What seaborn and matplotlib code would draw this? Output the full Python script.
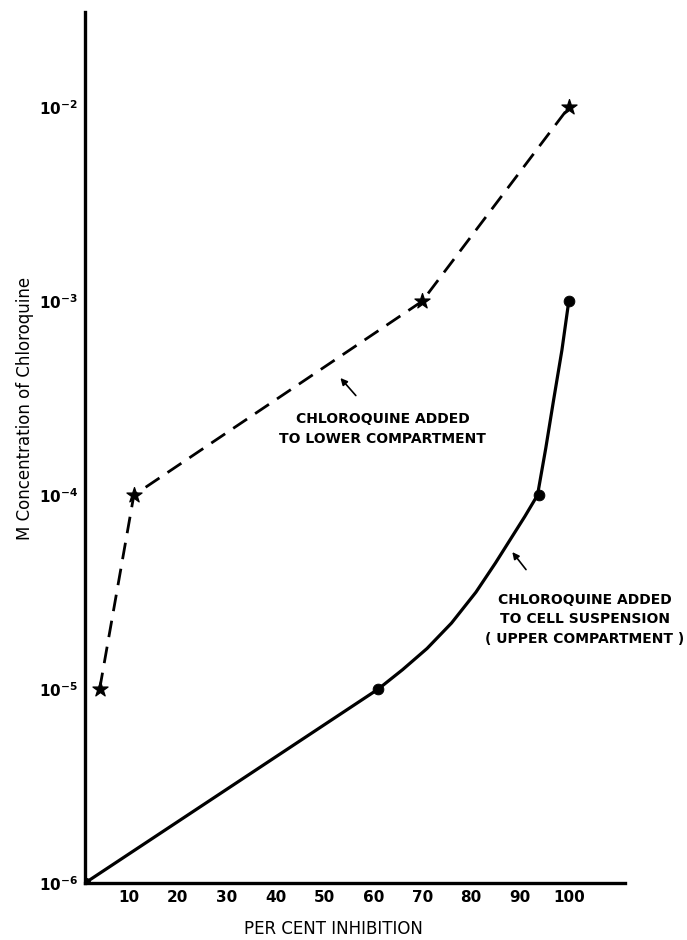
import numpy as np
import pandas as pd
import matplotlib
matplotlib.use("Agg")
import matplotlib.pyplot as plt
import matplotlib.ticker as mticker
import seaborn as sns

# --- Datos ---
# Curva discontinua (cloroquina en el compartimento inferior)
inhib_inferior = [4, 11, 70, 100]
conc_inferior = [1e-5, 1e-4, 1e-3, 1e-2]

# Puntos medidos de la curva continua (suspensión celular)
inhib_superior = [1, 61, 94, 100]
conc_superior = [1e-6, 1e-5, 1e-4, 1e-3]

# Trazo de la curva continua
traza_x = [1, 61, 66, 71, 76, 81, 85, 88, 91, 93.6, 95.3, 96.9, 98.6, 100]
traza_y = [1e-6, 1e-5, 1.26e-5, 1.62e-5, 2.19e-5, 3.16e-5, 4.47e-5, 5.89e-5,
           7.76e-5, 1e-4, 1.75e-4, 3.1e-4, 5.6e-4, 1e-3]

xticks = [10, 20, 30, 40, 50, 60, 70, 80, 90, 100]
yticks = [1e-6, 1e-5, 1e-4, 1e-3, 1e-2]
ytick_labels = [r"$10^{-6}$", r"$10^{-5}$", r"$10^{-4}$", r"$10^{-3}$", r"$10^{-2}$"]

sns.set_style("white")
plt.rcParams["font.family"] = ["DejaVu Sans"]
plt.rcParams["mathtext.default"] = "bf"
plt.rcParams["text.color"] = "black"
plt.rcParams["axes.labelcolor"] = "black"
plt.rcParams["xtick.color"] = "black"
plt.rcParams["ytick.color"] = "black"

fig = plt.figure(figsize=(6.87, 9.4), dpi=100)
ax = fig.add_axes([0.1237, 0.0606, 0.786, 0.9266])

df_traza = pd.DataFrame({"x": traza_x, "y": traza_y})
sns.lineplot(data=df_traza, x="x", y="y", sort=False, estimator=None,
             color="black", linewidth=2.3, ax=ax)
sns.scatterplot(x=inhib_superior, y=conc_superior, color="black", s=60,
                marker="o", edgecolor="black", ax=ax, zorder=5)

df_inf = pd.DataFrame({"x": inhib_inferior, "y": conc_inferior})
sns.lineplot(data=df_inf, x="x", y="y", sort=False, estimator=None,
             color="black", linewidth=2.0, ax=ax)
ax.lines[-1].set_dashes([6, 3.5])
sns.scatterplot(x=inhib_inferior, y=conc_inferior, color="black", s=130,
                marker="*", edgecolor="black", ax=ax, zorder=5)

ax.set_yscale("log")
ax.set_xlim(1, 111.5)
ax.set_ylim(1e-6, 0.031)
ax.set_xticks(xticks)
ax.set_xticklabels([str(t) for t in xticks], fontsize=11, fontweight="bold")
ax.set_yticks(yticks)
ax.set_yticklabels(ytick_labels, fontsize=11)
ax.yaxis.set_minor_locator(mticker.NullLocator())
ax.tick_params(axis="both", direction="in", length=7, width=1.6, color="black", pad=5)

for lado in ["top", "right"]:
    ax.spines[lado].set_visible(False)
for lado in ["left", "bottom"]:
    ax.spines[lado].set_linewidth(2.4)
    ax.spines[lado].set_color("black")

ax.set_xlabel("PER CENT INHIBITION", fontsize=12, labelpad=8)
ax.xaxis.set_label_coords(0.46, -0.042)
ax.set_ylabel("M Concentration of Chloroquine", fontsize=12)
ax.yaxis.set_label_coords(-0.095, 0.545)

# Anotaciones
ax.text(61.9, 10 ** -3.66, "CHLOROQUINE ADDED\nTO LOWER COMPARTMENT",
        ha="center", va="center", multialignment="center", fontsize=10,
        fontweight="bold", linespacing=1.5)
ax.annotate("", xy=(52.9, 10 ** -3.385), xytext=(56.8, 10 ** -3.497),
            arrowprops=dict(arrowstyle="-|>", color="black", lw=1.2, mutation_scale=10))

ax.text(103.3, 10 ** -4.64, "CHLOROQUINE ADDED\nTO CELL SUSPENSION\n( UPPER COMPARTMENT )",
        ha="center", va="center", multialignment="center", fontsize=10,
        fontweight="bold", linespacing=1.5)
ax.annotate("", xy=(88.1, 10 ** -4.282), xytext=(91.6, 10 ** -4.395),
            arrowprops=dict(arrowstyle="-|>", color="black", lw=1.2, mutation_scale=10))

fig.savefig("out.png", dpi=100)
